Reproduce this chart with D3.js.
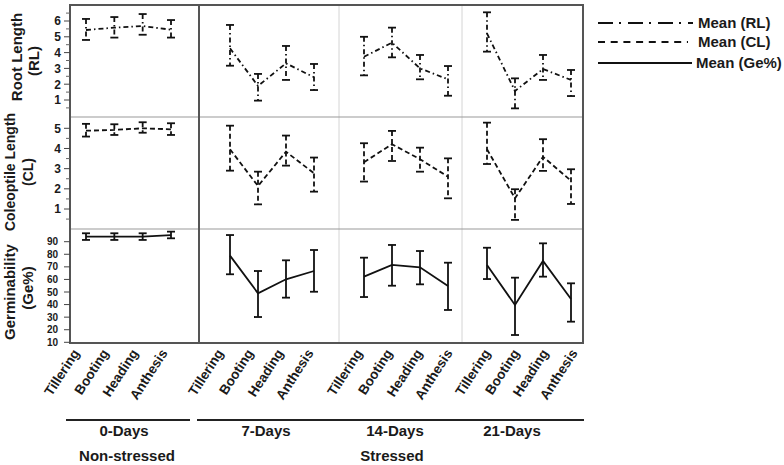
<!DOCTYPE html>
<html><head><meta charset="utf-8">
<script src="https://cdn.jsdelivr.net/npm/d3@7"></script>
<style>
body{margin:0;background:#fff;}
text{font-family:"Liberation Sans",Arial,sans-serif;font-weight:bold;fill:#1a1a1a;}
</style>
</head><body><svg id="c" width="784" height="465"></svg>
<script>
// ---------------- DATA ----------------
const stages = ["Tillering","Booting","Heading","Anthesis"];
const groups = ["0-Days","7-Days","14-Days","21-Days"];
const conditions = ["Non-stressed","Stressed"];
const legendLabels = ["Mean (RL)","Mean (CL)","Mean (Ge%)"];
const rowTitles = [["Root Length","(RL)"],["Coleoptile Length","(CL)"],["Germinability","(Ge%)"]];

// values ordered: 0-Days(4 stages), 7-Days, 14-Days, 21-Days
const rlMean = [5.43,5.58,5.68,5.45, 4.27,1.89,3.32,2.44, 3.74,4.63,3.00,2.31, 5.22,1.57,2.96,2.27];
const rlHi   = [6.13,6.25,6.44,6.06, 5.75,2.65,4.42,3.28, 5.00,5.58,3.85,3.15, 6.55,2.37,3.85,2.90];
const rlLo   = [4.80,4.95,5.13,4.95, 3.17,0.96,2.27,1.63, 2.56,3.70,2.31,1.27, 4.06,0.47,2.27,1.25];

const clMean = [4.88,4.92,5.00,4.95, 3.96,2.14,3.84,2.77, 3.32,4.21,3.47,2.60, 3.96,1.53,3.59,2.40];
const clHi   = [5.22,5.20,5.30,5.25, 5.13,2.85,4.64,3.55, 4.26,4.87,4.04,3.51, 5.28,1.98,4.46,2.97];
const clLo   = [4.59,4.67,4.78,4.67, 2.90,1.23,3.15,1.86, 2.36,3.38,2.85,1.53, 3.23,0.46,2.89,1.25];

const geMean = [94.0,94.0,94.0,95.3, 78.9,49.0,60.1,66.7, 62.2,71.5,69.6,54.8, 71.5,39.7,74.7,44.4];
const geHi   = [96.7,96.7,96.7,98.0, 95.3,66.7,75.2,83.4, 77.3,87.4,82.6,73.3, 85.2,61.4,88.7,56.9];
const geLo   = [91.4,91.4,91.4,92.7, 64.1,30.1,45.5,50.2, 46.0,55.0,56.1,35.7, 60.3,15.8,62.2,26.4];

const rlTicks = [1,2,3,4,5,6];
const clTicks = [1,2,3,4,5];
const geTicks = [10,20,30,40,50,60,70,80,90];

// ---------------- LAYOUT ----------------
const svg = d3.select("#c");
const colEdges = [70,199,339,462,583];
const pointRanges = [[86,171],[230,314],[364,448],[487,571]];
const labelRanges = [[80,168],[224,314],[363,453],[491,578]];
const rowEdges = [5,117,229,343];
const dashRL = "5,3,1.5,3", dashCL = "5,3", dashGe = null;

const rows = [
  {mean:rlMean, hi:rlHi, lo:rlLo, ticks:rlTicks, minor:d3.range(0.5,7,1),
   y:d3.scaleLinear().domain([1,6]).range([100,21]), dash:dashRL, fs:12, lx:61,
   tfs:15, tx:[22,39], ty:[57,61]},
  {mean:clMean, hi:clHi, lo:clLo, ticks:clTicks, minor:d3.range(0.5,5.5,1),
   y:d3.scaleLinear().domain([1,5]).range([209,128.3]), dash:dashCL, fs:12, lx:61,
   tfs:14, tx:[15,33], ty:[172,172]},
  {mean:geMean, hi:geHi, lo:geLo, ticks:geTicks, minor:[],
   y:d3.scaleLinear().domain([10,90]).range([342.3,241.7]), dash:dashGe, fs:10, lx:58,
   tfs:15, tx:[15,33], ty:[292,288]}
];

const xScales = groups.map((g,i)=>d3.scalePoint().domain(stages).range(pointRanges[i]));
const labelScales = groups.map((g,i)=>d3.scalePoint().domain(stages).range(labelRanges[i]));

// background
svg.append("rect").attr("width",784).attr("height",465).attr("fill","#fff");

// inner dividers
[2,3].forEach(i=>svg.append("line").attr("x1",colEdges[i]).attr("x2",colEdges[i])
  .attr("y1",rowEdges[0]).attr("y2",rowEdges[3]).attr("stroke","#d4d4d4").attr("stroke-width",1));
[1,2].forEach(i=>svg.append("line").attr("x1",colEdges[0]).attr("x2",colEdges[4])
  .attr("y1",rowEdges[i]).attr("y2",rowEdges[i]).attr("stroke","#9a9a9a").attr("stroke-width",1.2));
svg.append("line").attr("x1",colEdges[1]).attr("x2",colEdges[1])
  .attr("y1",rowEdges[0]).attr("y2",rowEdges[3]).attr("stroke","#555").attr("stroke-width",2);
svg.append("rect").attr("x",colEdges[0]).attr("y",rowEdges[0])
  .attr("width",colEdges[4]-colEdges[0]).attr("height",rowEdges[3]-rowEdges[0])
  .attr("fill","none").attr("stroke","#555").attr("stroke-width",2);

// y axes
rows.forEach((r,ri)=>{
  const g = svg.append("g");
  r.ticks.forEach(t=>{
    g.append("line").attr("x1",64).attr("x2",70).attr("y1",r.y(t)).attr("y2",r.y(t))
      .attr("stroke","#444").attr("stroke-width",1);
    g.append("text").attr("x",r.lx).attr("y",r.y(t)).attr("dy","0.36em")
      .attr("text-anchor","end").attr("font-size",r.fs).text(t);
  });
  r.minor.forEach(t=>{
    const yy=r.y(t);
    if(yy>rowEdges[ri]+1 && yy<rowEdges[ri+1]-1)
      g.append("line").attr("x1",66).attr("x2",70).attr("y1",yy).attr("y2",yy)
        .attr("stroke","#666").attr("stroke-width",1);
  });
  rowTitles[ri].forEach((s,k)=>{
    svg.append("text").attr("transform",`translate(${r.tx[k]},${r.ty[k]}) rotate(-90)`)
      .attr("text-anchor","middle").attr("font-size",r.tfs).text(s);
  });
});

// data marks
rows.forEach(r=>{
  groups.forEach((gname,gi)=>{
    const xs = xScales[gi];
    const pts = stages.map((s,si)=>({x:xs(s), m:r.mean[gi*4+si], hi:r.hi[gi*4+si], lo:r.lo[gi*4+si]}));
    const g = svg.append("g");
    pts.forEach(p=>{
      g.append("line").attr("x1",p.x).attr("x2",p.x).attr("y1",r.y(p.hi)).attr("y2",r.y(p.lo))
        .attr("stroke","#111").attr("stroke-width",1.8).attr("stroke-dasharray",r.dash);
      [p.hi,p.lo].forEach(v=>g.append("line").attr("x1",p.x-4).attr("x2",p.x+4)
        .attr("y1",r.y(v)).attr("y2",r.y(v)).attr("stroke","#111").attr("stroke-width",1.8));
    });
    g.append("path").datum(pts)
      .attr("d",d3.line().x(d=>d.x).y(d=>r.y(d.m)))
      .attr("fill","none").attr("stroke","#111").attr("stroke-width",1.8)
      .attr("stroke-dasharray",r.dash);
  });
});

// x labels
groups.forEach((gname,gi)=>{
  stages.forEach(s=>{
    const x = labelScales[gi](s);
    svg.append("text").attr("transform",`translate(${x},353) rotate(-57)`)
      .attr("text-anchor","end").attr("font-size",13.5).text(s);
  });
});

// group lines and labels
svg.append("line").attr("x1",66).attr("x2",190).attr("y1",420).attr("y2",420).attr("stroke","#222").attr("stroke-width",2);
svg.append("line").attr("x1",197).attr("x2",584).attr("y1",420).attr("y2",420).attr("stroke","#222").attr("stroke-width",2);
const groupCenters = [124,266,395,512];
groups.forEach((g,i)=>svg.append("text").attr("x",groupCenters[i]).attr("y",436)
  .attr("text-anchor","middle").attr("font-size",15).text(g));
const condCenters = [127,392];
conditions.forEach((c,i)=>svg.append("text").attr("x",condCenters[i]).attr("y",461)
  .attr("text-anchor","middle").attr("font-size",15).text(c));

// legend
const legDash = ["15,6,2,7","7,5.7",null];
const legY = [23,42,63];
const legEnd = [693,688,692];
legendLabels.forEach((l,i)=>{
  svg.append("line").attr("x1",598).attr("x2",legEnd[i]).attr("y1",legY[i]).attr("y2",legY[i])
    .attr("stroke","#111").attr("stroke-width",2).attr("stroke-dasharray",legDash[i]);
  svg.append("text").attr("x",i===2?696:698).attr("y",legY[i]+5).attr("font-size",15).text(l);
});
</script>
</body></html>
